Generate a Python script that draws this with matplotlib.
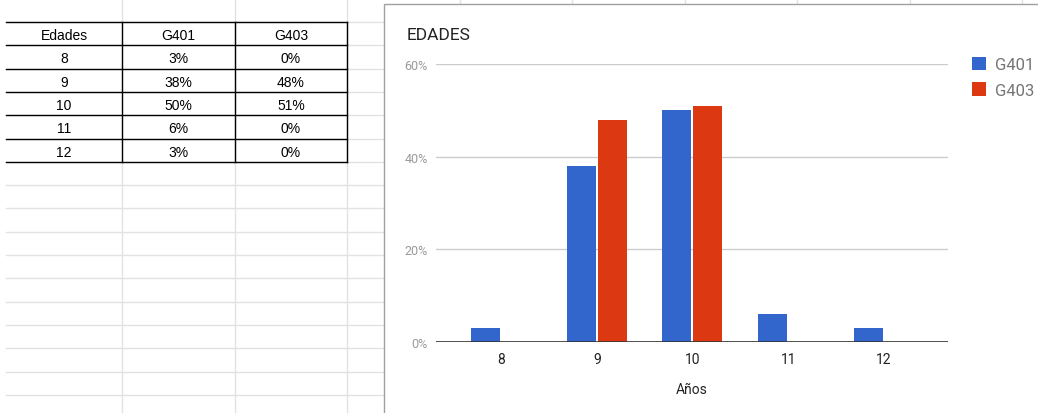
import numpy as np
import matplotlib
matplotlib.use('Agg')
import matplotlib.pyplot as plt
from matplotlib.patches import Rectangle

# Datos de edades por grupo (porcentajes)
edades = [8, 9, 10, 11, 12]
g401 = [3, 38, 50, 6, 3]
g403 = [0, 48, 51, 0, 0]
encabezados = ['Edades', 'G401', 'G403']
series = ['G401', 'G403']
colores = ['#3366cc', '#dc3912']

plt.rcParams['font.family'] = 'Roboto'

W, H = 1038, 414
fig = plt.figure(figsize=(W / 100, H / 100), dpi=100)

# Fondo de hoja de calculo (coordenadas en pixeles)
bg = fig.add_axes([0, 0, 1, 1])
bg.set_xlim(0, W)
bg.set_ylim(H, 0)
bg.axis('off')

col_x = [6, 122, 235, 347]
alto_fila = 23.3
filas_y = [23 + alto_fila * i for i in range(17)]
gris = '#e2e2e2'

for x in col_x[1:] + [460, 572, 685, 797, 910, 1022]:
    bg.plot([x, x], [0, H], color=gris, lw=1, zorder=1)
for y in filas_y:
    bg.plot([6, 384], [y, y], color=gris, lw=1, zorder=1)

# Tabla con bordes negros
for y in filas_y[:7]:
    bg.plot([6, 347], [y, y], color='black', lw=1, zorder=2)
for x in col_x[1:]:
    bg.plot([x, x], [filas_y[0], filas_y[6]], color='black', lw=1, zorder=2)

centros = [(col_x[i] + col_x[i + 1]) / 2 for i in range(3)]
for j, txt in enumerate(encabezados):
    bg.text(centros[j], filas_y[0] + alto_fila / 2 + 1.5, txt, ha='center', va='center',
            fontsize=10, family='Liberation Sans', color='black', zorder=2)
for i, e in enumerate(edades):
    yc = filas_y[i + 1] + alto_fila / 2 + 1.5
    fila = [str(e), f'{g401[i]}%', f'{g403[i]}%']
    for j, txt in enumerate(fila):
        bg.text(centros[j], yc, txt, ha='center', va='center',
                fontsize=10, family='Liberation Sans', color='black', zorder=2)

# Panel del grafico
bg.add_patch(Rectangle((384, 5), 800, 600, facecolor='white',
                       edgecolor='#a0a0a0', lw=1, zorder=3))
bg.text(407, 35, 'EDADES', fontsize=12.5, color='#222222', va='center', zorder=4)

ax = fig.add_axes([436 / W, 1 - 343 / H, 512 / W, 278 / H])
ax.patch.set_alpha(0)

x = np.arange(len(edades))
ancho = 0.303
desp = 0.162
ax.bar(x - desp, g401, ancho, color=colores[0], label=series[0], zorder=3)
ax.bar(x + desp, g403, ancho, color=colores[1], label=series[1], zorder=3)

ax.set_xlim(-0.68, 4.67)
ax.set_ylim(0, 60)
ax.set_yticks([0, 20, 40, 60])
ax.set_yticklabels([f'{v}%' for v in [0, 20, 40, 60]])
ax.set_xticks(x)
ax.set_xticklabels([str(e) for e in edades])
ax.grid(axis='y', color='#cccccc', lw=1)
ax.set_axisbelow(True)
ax.axhline(0, color='#333333', lw=1.2, zorder=4)
for s in ax.spines.values():
    s.set_visible(False)
ax.tick_params(axis='x', length=0, pad=7, labelsize=10, labelcolor='#222222')
ax.tick_params(axis='y', length=0, pad=6, labelsize=9, labelcolor='#999999')
ax.set_xlabel('Años', fontsize=10, color='#222222', labelpad=12)

ax.legend(loc='upper left', bbox_to_anchor=(972 / W, 1 - 58 / H),
          bbox_transform=fig.transFigure, frameon=False, fontsize=12,
          handlelength=0.85, handleheight=0.85, handletextpad=0.5,
          labelspacing=0.6, borderpad=0, borderaxespad=0, labelcolor='#757575')

fig.savefig('out.png', dpi=100)
